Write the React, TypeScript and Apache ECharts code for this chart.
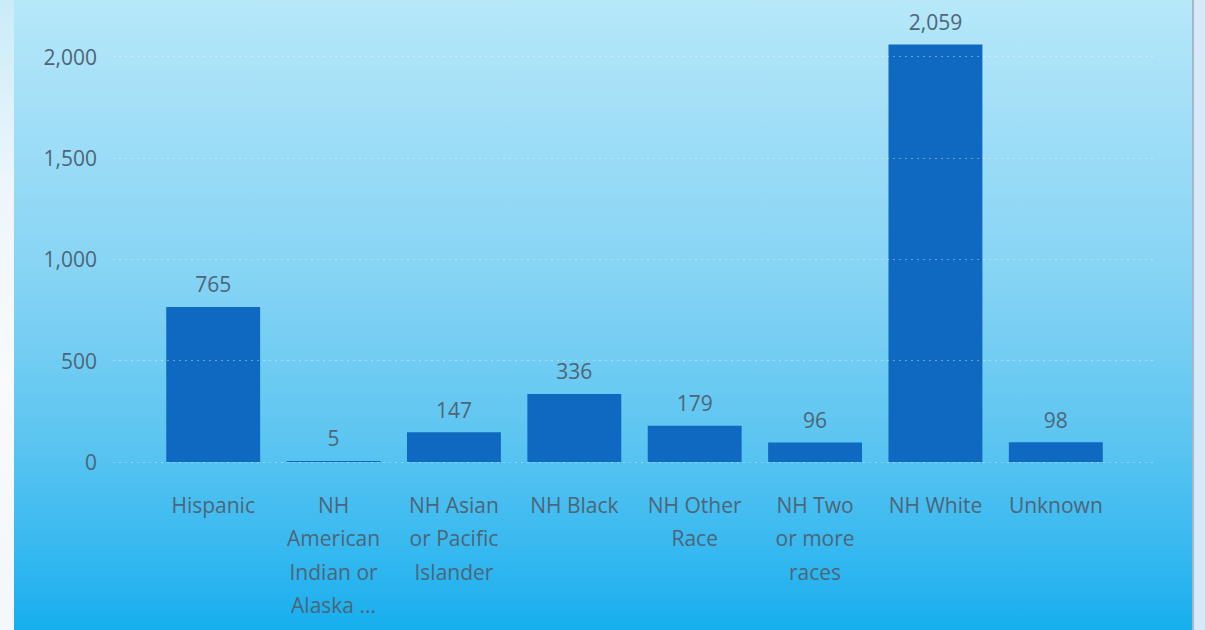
import React, { useEffect, useRef } from "react";
import * as echarts from "echarts";

const categories = [
  "Hispanic",
  "NH American Indian or Alaska ...",
  "NH Asian or Pacific Islander",
  "NH Black",
  "NH Other Race",
  "NH Two or more races",
  "NH White",
  "Unknown",
];
const wrappedLabels = [
  "Hispanic",
  "NH\nAmerican\nIndian or\nAlaska ...",
  "NH Asian\nor Pacific\nIslander",
  "NH Black",
  "NH Other\nRace",
  "NH Two\nor more\nraces",
  "NH White",
  "Unknown",
];
const values = [765, 5, 147, 336, 179, 96, 2059, 98];
const yTicks = [0, 500, 1000, 1500, 2000];

const FONT = "'Open Sans', 'Noto Sans', sans-serif";
const TEXT = "#4d6577";

export default function App() {
  const ref = useRef<HTMLDivElement>(null);
  useEffect(() => {
    if (!ref.current) return;
    const chart = echarts.init(ref.current, null, { renderer: "svg" });
    const top = 16;
    const bottom = 168;
    const yMax = 2200;
    chart.setOption({
      animation: false,
      backgroundColor: "transparent",
      grid: [
        { left: 113, right: 50, top, bottom },
        { left: 153, right: 89, top, bottom },
      ],
      xAxis: [
        { type: "category", gridIndex: 0, data: categories, show: false },
        {
          type: "category",
          gridIndex: 1,
          data: categories,
          axisLine: { show: false },
          axisTick: { show: false },
          axisLabel: {
            interval: 0,
            margin: 26,
            color: TEXT,
            fontFamily: FONT,
            fontSize: 21,
            lineHeight: 33.5,
            formatter: (_v: string, i: number) => wrappedLabels[i],
          },
        },
      ],
      yAxis: [
        {
          type: "value",
          gridIndex: 0,
          min: yTicks[0],
          max: yMax,
          interval: 500,
          axisLine: { show: false },
          axisTick: { show: false },
          axisLabel: {
            margin: 16,
            showMaxLabel: false,
            color: TEXT,
            fontFamily: FONT,
            fontSize: 21,
            formatter: (v: number) =>
              yTicks.includes(v) ? v.toLocaleString("en-US") : "",
          },
          splitLine: { show: false },
        },
        {
          type: "value",
          gridIndex: 1,
          min: 0,
          max: yMax,
          interval: 500,
          show: false,
          splitLine: { show: false },
        },
      ],
      series: [
        {
          type: "line",
          xAxisIndex: 0,
          yAxisIndex: 0,
          data: [],
          silent: true,
          markLine: {
            silent: true,
            symbol: "none",
            label: { show: false },
            lineStyle: { color: "rgba(255,255,255,0.35)", type: [2, 4], width: 1 },
            data: yTicks.map((v) => ({ yAxis: v })),
          },
        },
        {
          type: "bar",
          xAxisIndex: 1,
          yAxisIndex: 1,
          data: values,
          barCategoryGap: "22%",
          itemStyle: { color: "#0f69c1" },
          label: {
            show: true,
            position: "top",
            distance: 12,
            color: TEXT,
            fontFamily: FONT,
            fontSize: 21,
            formatter: (p: any) => Number(p.value).toLocaleString("en-US"),
          },
        },
      ],
    });
    return () => chart.dispose();
  }, []);

  return (
    <div
      style={{
        position: "fixed",
        left: 0,
        top: 0,
        width: 1205,
        height: 630,
        background: "#f7f9fc",
        overflow: "hidden",
      }}
    >
      <div
        style={{
          position: "absolute",
          left: 0,
          top: 0,
          width: 14,
          height: 630,
          background: "linear-gradient(#c9ecf8 0%, #eef6fb 30%, #f8fafc 60%, #f4f7fb 100%)",
        }}
      />
      <div
        style={{
          position: "absolute",
          left: 14,
          top: 0,
          width: 1178,
          height: 630,
          background:
            "linear-gradient(#b6e8f9 0%, #a0def7 20%, #84d3f4 45%, #5cc5f1 70%, #35b8f0 88%, #17aeee 100%)",
        }}
      />
      <div
        style={{
          position: "absolute",
          left: 1192,
          top: 0,
          width: 2,
          height: 630,
          background: "#a8b8c6",
        }}
      />
      <div
        style={{
          position: "absolute",
          left: 1194,
          top: 0,
          width: 11,
          height: 630,
          background: "#d7e9f8",
        }}
      />
      <div ref={ref} style={{ position: "absolute", left: 0, top: 0, width: 1205, height: 630 }} />
    </div>
  );
}
